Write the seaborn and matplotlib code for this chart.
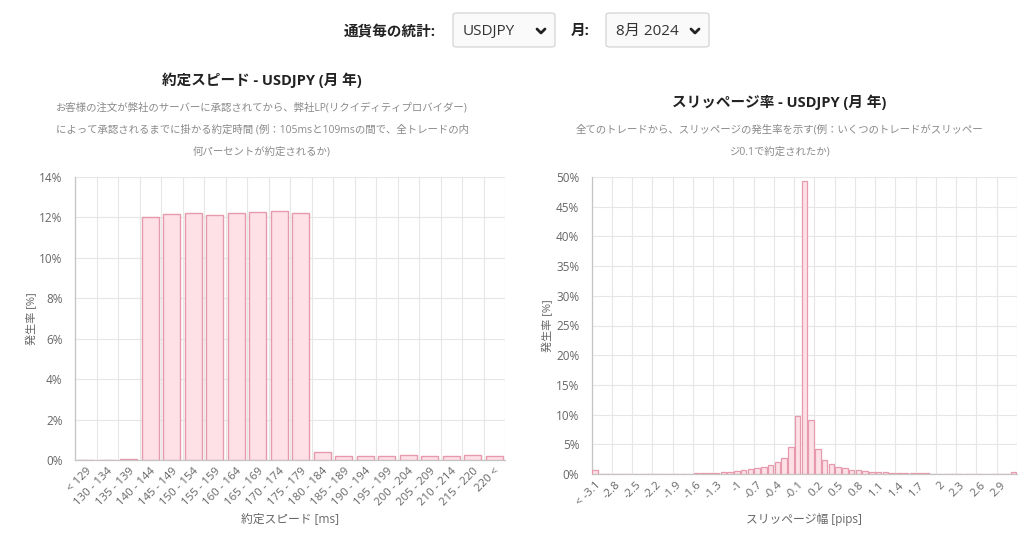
import numpy as np
import matplotlib
matplotlib.use("Agg")
import matplotlib.pyplot as plt
from matplotlib.patches import FancyBboxPatch
from matplotlib.lines import Line2D
from matplotlib.ticker import FuncFormatter, FixedLocator
import seaborn as sns

# ---------------- data ----------------
speed_labels = ["< 129", "130 - 134", "135 - 139", "140 - 144", "145 - 149", "150 - 154",
                "155 - 159", "160 - 164", "165 - 169", "170 - 174", "175 - 179", "180 - 184",
                "185 - 189", "190 - 194", "195 - 199", "200 - 204", "205 - 209", "210 - 214",
                "215 - 220", "220 <"]
speed_values = [0.0, 0.0, 0.03, 12.0, 12.18, 12.2, 12.13, 12.23, 12.25, 12.3, 12.2, 0.38,
                0.2, 0.2, 0.2, 0.23, 0.2, 0.2, 0.23, 0.2]

slip_labels = ["< -3.1", "-3", "-2.9", "-2.8", "-2.7", "-2.6", "-2.5", "-2.4", "-2.3", "-2.2",
               "-2.1", "-2", "-1.9", "-1.8", "-1.7", "-1.6", "-1.5", "-1.4", "-1.3", "-1.2",
               "-1.1", "-1", "-0.9", "-0.8", "-0.7", "-0.6", "-0.5", "-0.4", "-0.3", "-0.2",
               "-0.1", "0", "0.1", "0.2", "0.3", "0.4", "0.5", "0.6", "0.7", "0.8",
               "0.9", "1", "1.1", "1.2", "1.3", "1.4", "1.5", "1.6", "1.7", "1.8",
               "1.9", "2", "2.1", "2.2", "2.3", "2.4", "2.5", "2.6", "2.7", "2.8",
               "2.9", "3", "3.1 <"]
slip_values = [0.6, 0, 0, 0, 0, 0, 0, 0, 0, 0.03,
               0.04, 0.05, 0.06, 0.07, 0.08, 0.1, 0.12, 0.15, 0.2, 0.27,
               0.35, 0.5, 0.65, 0.8, 0.95, 1.15, 1.45, 1.95, 2.7, 4.6,
               9.8, 49.3, 9.1, 4.2, 2.35, 1.7, 1.25, 0.95, 0.75, 0.6,
               0.5, 0.42, 0.35, 0.3, 0.25, 0.2, 0.17, 0.14, 0.12, 0.1,
               0.08, 0.07, 0.05, 0.04, 0.03, 0.02, 0, 0, 0, 0,
               0, 0, 0.4]

# ---------------- style ----------------
sns.set_theme(style="white")
plt.rcParams['font.family'] = ['Open Sans', 'Noto Sans CJK JP', 'DejaVu Sans']

FILL = "#fde1e7"
EDGE = "#e79aae"
GRID = "#e6e6e6"
AXIS = "#c4c4c4"
TICKC = "#666666"
SUBC = "#8a8a8a"

fig = plt.figure(figsize=(10.24, 5.33), dpi=100)
fig.patch.set_facecolor("white")

def fx(px):
    return px / 1024.0

def fy(py):
    return 1 - py / 533.0

# ---------------- header ----------------
fig.text(fx(436), fy(31), "通貨毎の統計:", ha="right", va="center", fontsize=10.5,
         fontweight="bold", color="#222222")
fig.text(fx(590), fy(31), "月:", ha="right", va="center", fontsize=10.5,
         fontweight="bold", color="#222222")
for (x0, x1, label) in [(453, 555, "USDJPY"), (606, 709, "8月 2024")]:
    box = FancyBboxPatch((fx(x0), fy(47)), fx(x1 - x0), fy(13) - fy(47),
                         boxstyle="round,pad=0,rounding_size=0.004",
                         transform=fig.transFigure, facecolor="#fafafa",
                         edgecolor="#d0d0d0", linewidth=0.8)
    fig.add_artist(box)
    fig.text(fx(x0 + 10), fy(31), label, ha="left", va="center", fontsize=11, color="#333333")
    cx = x1 - 14
    fig.add_artist(Line2D([fx(cx - 4), fx(cx), fx(cx + 4)], [fy(29), fy(33), fy(29)],
                          transform=fig.transFigure, color="#222222", linewidth=2.0,
                          solid_capstyle="round", solid_joinstyle="round"))

# ---------------- titles ----------------
fig.text(fx(262), fy(80), "約定スピード - USDJPY (月 年)", ha="center", va="center",
         fontsize=10.5, fontweight="bold", color="#222222")
for py, line in [(108, "お客様の注文が弊社のサーバーに承認されてから、弊社LP(リクイディティプロバイダー)"),
                 (130, "によって承認されるまでに掛かる約定時間 (例：105msと109msの間で、全トレードの内"),
                 (152, "何パーセントが約定されるか)")]:
    fig.text(fx(262), fy(py), line, ha="center", va="center", fontsize=7.5, color=SUBC)

fig.text(fx(779), fy(102), "スリッページ率 - USDJPY (月 年)", ha="center", va="center",
         fontsize=10.5, fontweight="bold", color="#222222")
for py, line in [(130, "全てのトレードから、スリッページの発生率を示す(例：いくつのトレードがスリッペー"),
                 (152, "ジ0.1で約定されたか)")]:
    fig.text(fx(779), fy(py), line, ha="center", va="center", fontsize=7.5, color=SUBC)

# ---------------- axes ----------------
ax1 = fig.add_axes([fx(75), fy(460), fx(505 - 75), fy(177) - fy(460)])
ax2 = fig.add_axes([fx(591.7), fy(474), fx(1017 - 591.7), fy(177) - fy(474)])

sns.barplot(x=speed_labels, y=speed_values, order=speed_labels, ax=ax1, color=FILL,
            saturation=1, edgecolor=EDGE, linewidth=1.0, width=0.8, zorder=3)
sns.barplot(x=slip_labels, y=slip_values, order=slip_labels, ax=ax2, color=FILL,
            saturation=1, edgecolor=EDGE, linewidth=0.9, width=0.8, zorder=3)

def style_axis(ax, n, ymax, ystep, label_idx, labels, xlabel, xlabel_py, bottom_py, top_py):
    ax.set_xlim(-0.5, n - 0.5)
    ax.set_ylim(0, ymax)
    ax.set_yticks(np.arange(0, ymax + 0.01, ystep))
    ax.yaxis.set_major_formatter(FuncFormatter(lambda v, p: f"{v:.0f}%"))
    ax.set_xticks(label_idx)
    ax.set_xticklabels([labels[i] for i in label_idx], rotation=45, ha="right",
                       rotation_mode="anchor", fontsize=8.2, color=TICKC)
    ax.xaxis.set_minor_locator(FixedLocator([i - 0.5 for i in label_idx] + [n - 0.5]))
    ax.tick_params(axis="x", which="major", length=0, pad=4)
    ax.tick_params(axis="x", which="minor", length=6, color=GRID, width=0.8)
    ax.tick_params(axis="y", which="major", length=6, color=GRID, width=0.8,
                   labelsize=8.5, labelcolor=TICKC, pad=3)
    ax.grid(False)
    ax.grid(True, axis="y", which="major", color=GRID, linewidth=0.8)
    ax.grid(True, axis="x", which="minor", color=GRID, linewidth=0.8)
    ax.set_axisbelow(True)
    for s in ["top", "right"]:
        ax.spines[s].set_visible(False)
    for s in ["left", "bottom"]:
        ax.spines[s].set_color(AXIS)
        ax.spines[s].set_linewidth(0.9)
        ax.spines[s].set_zorder(2)
    ax.set_ylabel("発生率 [%]", fontsize=8, color=TICKC, labelpad=1)
    ax.set_xlabel(xlabel, fontsize=8.5, color=TICKC)
    ax.xaxis.label.set_va("center")
    ax.xaxis.set_label_coords(0.5, -(xlabel_py - bottom_py) / (bottom_py - top_py))
    ax.set_facecolor("white")

style_axis(ax1, len(speed_labels), 14, 2, list(range(len(speed_labels))), speed_labels,
           "約定スピード [ms]", 519, 460, 177)
style_axis(ax2, len(slip_labels), 50, 5, list(range(0, 61, 3)), slip_labels,
           "スリッページ幅 [pips]", 519, 474, 177)

fig.savefig("out.png", dpi=100, facecolor="white")
